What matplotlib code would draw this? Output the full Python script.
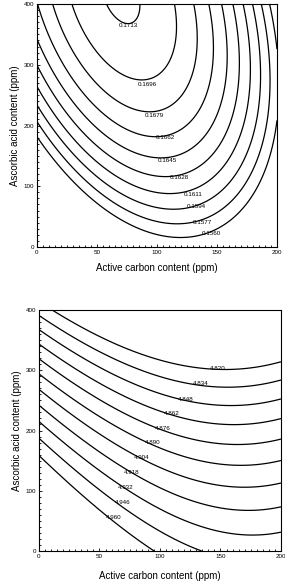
import numpy as np
import matplotlib.pyplot as plt
from matplotlib.ticker import MultipleLocator

plt.rcParams["font.family"] = ["Liberation Sans", "DejaVu Sans"]

# quadratic response surfaces: b0, bx, by, bxx, byy, bxy
coef_top = [1.3940e-01, 2.5300e-04, 1.1194e-04, -1.0415e-06, -1.1281e-07, -2.5839e-07]
coef_bot = [5.029679, -9.978529e-04, -3.982403e-04, 2.792369e-06, -2.616142e-07, 4.633605e-07]

levels_top = [0.1560, 0.1577, 0.1594, 0.1611, 0.1628, 0.1645, 0.1662, 0.1679, 0.1696, 0.1713]
levels_bot = [4.820, 4.834, 4.848, 4.862, 4.876, 4.890, 4.904, 4.918, 4.932, 4.946, 4.960]

# where the level labels sit (data coords)
lab_top = [(145, 23), (138, 41), (133, 67), (130, 86), (119, 115), (109, 142),
           (107, 180), (98, 216), (92, 267), (76, 365)]
lab_bot = [(148, 303), (134, 278), (121, 251), (110, 228), (102, 203), (94, 180),
           (85, 155), (77, 130), (72, 105), (69, 80), (62, 55)]

x = np.linspace(0, 200, 401)
y = np.linspace(0, 400, 801)
X, Y = np.meshgrid(x, y)


def surface(c):
    return c[0] + c[1] * X + c[2] * Y + c[3] * X ** 2 + c[4] * Y ** 2 + c[5] * X * Y


def style(ax, xpad):
    ax.set_xlim(0, 200)
    ax.set_ylim(0, 400)
    ax.xaxis.set_major_locator(MultipleLocator(50))
    ax.xaxis.set_minor_locator(MultipleLocator(5))
    ax.yaxis.set_major_locator(MultipleLocator(100))
    ax.yaxis.set_minor_locator(MultipleLocator(10))
    ax.tick_params(which="both", direction="in", labelsize=4.5, pad=2, width=0.6)
    ax.tick_params(which="major", length=2.5)
    ax.tick_params(which="minor", length=1.5)
    for s in ax.spines.values():
        s.set_linewidth(0.8)
    ax.set_xlabel("Active carbon content (ppm)", fontsize=7, labelpad=xpad)
    ax.set_ylabel("Ascorbic acid content (ppm)", fontsize=7, labelpad=3)


fig = plt.figure(figsize=(2.85, 5.82), dpi=100)
ax1 = fig.add_axes([0.1298, 0.5756, 0.842, 0.4175])
ax2 = fig.add_axes([0.1368, 0.0533, 0.849, 0.414])

ax1.contour(X, Y, surface(coef_top), levels=levels_top, colors="k", linewidths=0.9)
for lv, (lx, ly) in zip(levels_top, lab_top):
    ax1.text(lx, ly, "%.4f" % lv, fontsize=4.5, ha="center", va="center")

ax2.contour(X, Y, surface(coef_bot), levels=levels_bot, colors="k", linewidths=0.9)
for lv, (lx, ly) in zip(levels_bot, lab_bot):
    ax2.text(lx, ly, "%.3f" % lv, fontsize=4.5, ha="center", va="center")

style(ax1, 6)
style(ax2, 9)

fig.savefig("out.png", dpi=100)
